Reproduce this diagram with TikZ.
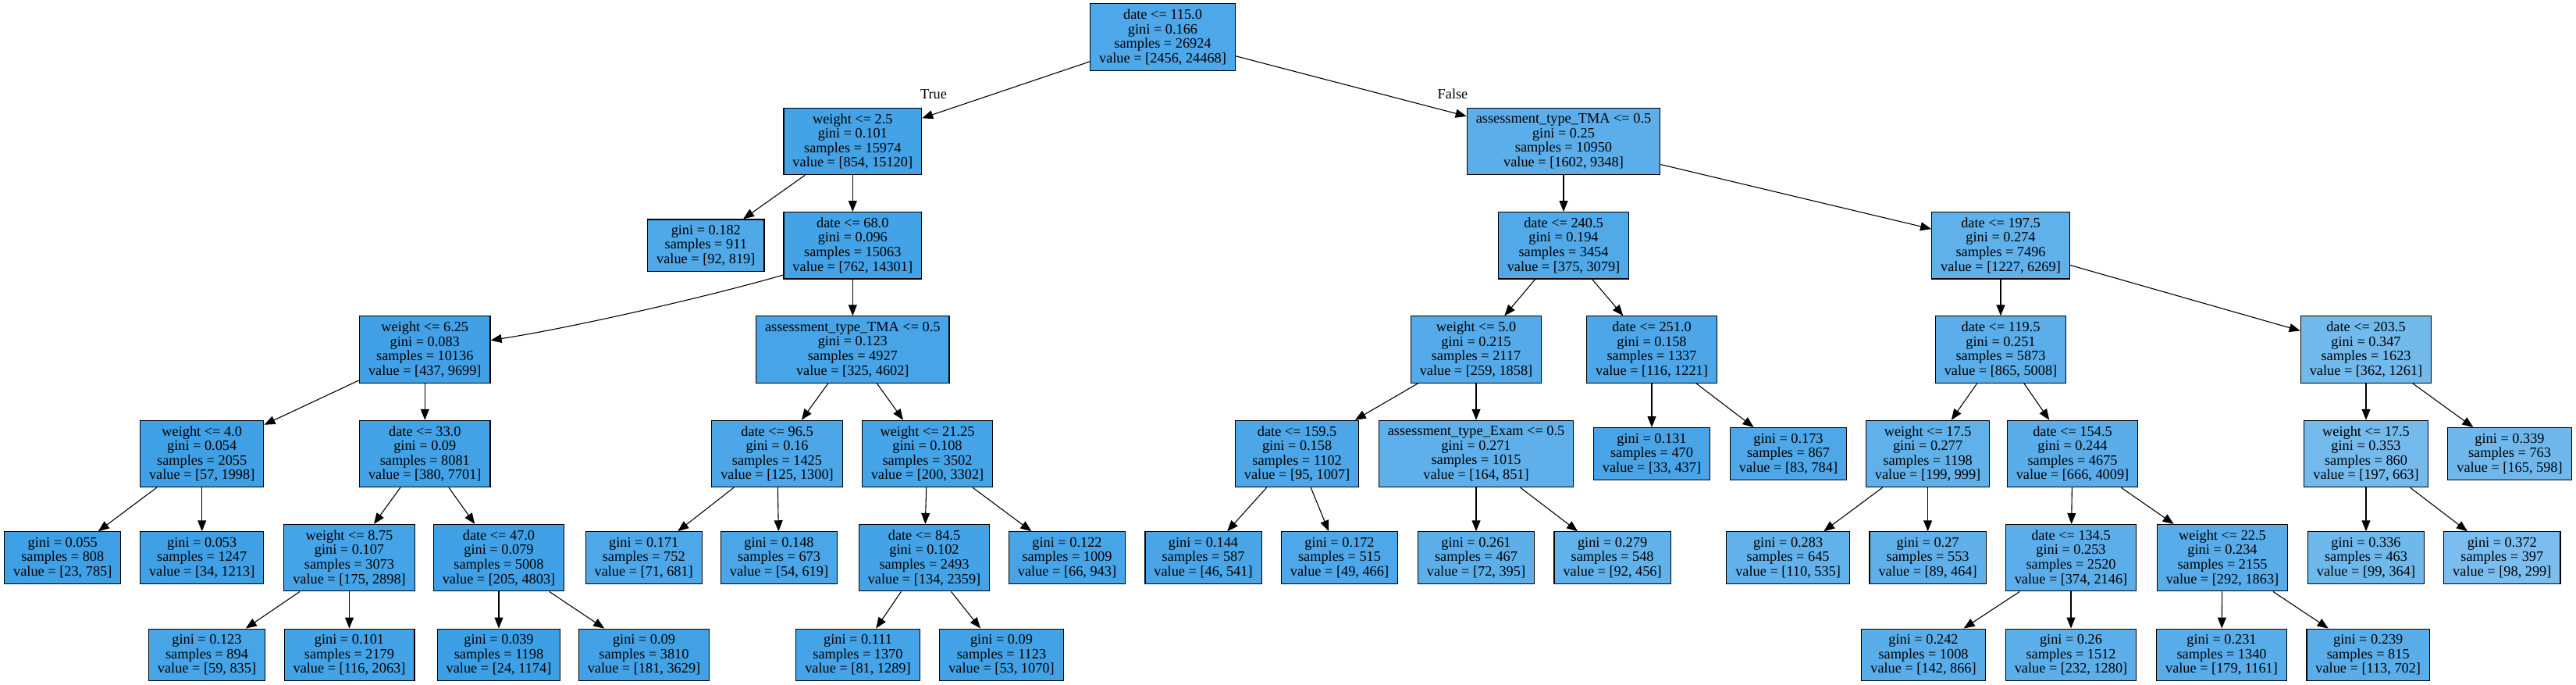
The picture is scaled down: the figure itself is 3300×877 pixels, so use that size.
\documentclass[tikz,border=0pt]{standalone}
\usepackage{fontspec}
\setmainfont{Liberation Serif}
\usetikzlibrary{arrows.meta}
\definecolor{sk}{RGB}{57,157,229}
\begin{document}
\begin{tikzpicture}[x=1pt,y=-1pt,
  tn/.style={draw=black, line width=1.2pt, rectangle, align=center, inner xsep=11.5pt, inner ysep=0pt, font=\fontsize{18.3}{18.6}\selectfont, fill=sk!#1!white},
  dn/.style={tn=#1, minimum height=85.3pt},
  lf/.style={tn=#1, minimum height=66.7pt},
  lbl/.style={font=\fontsize{18.3}{18.6}\selectfont, inner sep=0pt},
  ed/.style={line width=1.1pt, -{Triangle[length=14pt,width=11pt]}},
]
\fill[white] (0,0) rectangle (3300,877);
\useasboundingbox (0,0) rectangle (3300,877);

% rank 0
\node[dn=89.96] (root) at (1489.5,47.5) {date <= 115.0\\gini = 0.166\\samples = 26924\\value = [2456, 24468]};
% rank 1
\node[dn=94.35] (L) at (1092.3,181) {weight <= 2.5\\gini = 0.101\\samples = 15974\\value = [854, 15120]};
\node[dn=82.86] (R) at (2003,181) {assessment\_type\_TMA <= 0.5\\gini = 0.25\\samples = 10950\\value = [1602, 9348]};
% rank 2
\node[lf=88.77] (g182) at (904.3,314.3) {gini = 0.182\\samples = 911\\value = [92, 819]};
\node[dn=94.67] (LR) at (1092.3,314.3) {date <= 68.0\\gini = 0.096\\samples = 15063\\value = [762, 14301]};
\node[dn=87.82] (RL) at (2003,314.3) {date <= 240.5\\gini = 0.194\\samples = 3454\\value = [375, 3079]};
\node[dn=80.43] (RR) at (2563,314.3) {date <= 197.5\\gini = 0.274\\samples = 7496\\value = [1227, 6269]};
% rank 3
\node[dn=95.49] (LRL) at (544.3,447.5) {weight <= 6.25\\gini = 0.083\\samples = 10136\\value = [437, 9699]};
\node[dn=92.94] (LRR) at (1092.3,447.5) {assessment\_type\_TMA <= 0.5\\gini = 0.123\\samples = 4927\\value = [325, 4602]};
\node[dn=86.06] (RLL) at (1891,447.5) {weight <= 5.0\\gini = 0.215\\samples = 2117\\value = [259, 1858]};
\node[dn=90.50] (RLR) at (2116,447.5) {date <= 251.0\\gini = 0.158\\samples = 1337\\value = [116, 1221]};
\node[dn=82.73] (RRL) at (2563,447.5) {date <= 119.5\\gini = 0.251\\samples = 5873\\value = [865, 5008]};
\node[dn=71.29] (RRR) at (3031,447.5) {date <= 203.5\\gini = 0.347\\samples = 1623\\value = [362, 1261]};
% rank 4
\node[dn=97.15] (LRLL) at (258.7,581) {weight <= 4.0\\gini = 0.054\\samples = 2055\\value = [57, 1998]};
\node[dn=95.07] (LRLR) at (544.3,581) {date <= 33.0\\gini = 0.09\\samples = 8081\\value = [380, 7701]};
\node[dn=90.38] (LRRL) at (995.5,581) {date <= 96.5\\gini = 0.16\\samples = 1425\\value = [125, 1300]};
\node[dn=93.94] (LRRR) at (1188,581) {weight <= 21.25\\gini = 0.108\\samples = 3502\\value = [200, 3302]};
\node[dn=90.57] (RLLL) at (1661.6,581) {date <= 159.5\\gini = 0.158\\samples = 1102\\value = [95, 1007]};
\node[dn=80.73] (RLLR) at (1891,581) {assessment\_type\_Exam <= 0.5\\gini = 0.271\\samples = 1015\\value = [164, 851]};
\node[lf=92.45] (g131) at (2116,581) {gini = 0.131\\samples = 470\\value = [33, 437]};
\node[lf=89.41] (g173) at (2291,581) {gini = 0.173\\samples = 867\\value = [83, 784]};
\node[dn=80.08] (RRLL) at (2469.6,581) {weight <= 17.5\\gini = 0.277\\samples = 1198\\value = [199, 999]};
\node[dn=83.39] (RRLR) at (2655,581) {date <= 154.5\\gini = 0.244\\samples = 4675\\value = [666, 4009]};
\node[dn=70.29] (RRRL) at (3031,581) {weight <= 17.5\\gini = 0.353\\samples = 860\\value = [197, 663]};
\node[lf=72.41] (g339) at (3215,581) {gini = 0.339\\samples = 763\\value = [165, 598]};
% rank 5
\node[lf=97.07] (g055) at (80.3,714.2) {gini = 0.055\\samples = 808\\value = [23, 785]};
\node[lf=97.20] (g053) at (258.7,714.2) {gini = 0.053\\samples = 1247\\value = [34, 1213]};
\node[dn=93.96] (LRLRL) at (447.5,714.2) {weight <= 8.75\\gini = 0.107\\samples = 3073\\value = [175, 2898]};
\node[dn=95.73] (LRLRR) at (639,714.2) {date <= 47.0\\gini = 0.079\\samples = 5008\\value = [205, 4803]};
\node[lf=89.57] (g171) at (824.7,714.2) {gini = 0.171\\samples = 752\\value = [71, 681]};
\node[lf=91.28] (g148) at (998,714.2) {gini = 0.148\\samples = 673\\value = [54, 619]};
\node[dn=94.32] (LRRRL) at (1184,714.2) {date <= 84.5\\gini = 0.102\\samples = 2493\\value = [134, 2359]};
\node[lf=93.00] (g122) at (1367,714.2) {gini = 0.122\\samples = 1009\\value = [66, 943]};
\node[lf=91.50] (g144) at (1541.5,714.2) {gini = 0.144\\samples = 587\\value = [46, 541]};
\node[lf=89.48] (g172) at (1716,714.2) {gini = 0.172\\samples = 515\\value = [49, 466]};
\node[lf=81.77] (g261) at (1891,714.2) {gini = 0.261\\samples = 467\\value = [72, 395]};
\node[lf=79.82] (g279) at (2065.6,714.2) {gini = 0.279\\samples = 548\\value = [92, 456]};
\node[lf=79.44] (g283) at (2290.6,714.2) {gini = 0.283\\samples = 645\\value = [110, 535]};
\node[lf=80.82] (g27) at (2469.6,714.2) {gini = 0.27\\samples = 553\\value = [89, 464]};
\node[dn=82.57] (RRLRL) at (2653,714.2) {date <= 134.5\\gini = 0.253\\samples = 2520\\value = [374, 2146]};
\node[dn=84.33] (RRLRR) at (2847,714.2) {weight <= 22.5\\gini = 0.234\\samples = 2155\\value = [292, 1863]};
\node[lf=72.80] (g336) at (3031,714.2) {gini = 0.336\\samples = 463\\value = [99, 364]};
\node[lf=67.22] (g372) at (3205.3,714.2) {gini = 0.372\\samples = 397\\value = [98, 299]};
% rank 6
\node[lf=92.93] (g123) at (265,838.5) {gini = 0.123\\samples = 894\\value = [59, 835]};
\node[lf=94.38] (g101) at (447.5,838.5) {gini = 0.101\\samples = 2179\\value = [116, 2063]};
\node[lf=97.96] (g039) at (639,838.5) {gini = 0.039\\samples = 1198\\value = [24, 1174]};
\node[lf=95.01] (g09a) at (825,838.5) {gini = 0.09\\samples = 3810\\value = [181, 3629]};
\node[lf=93.72] (g111) at (1099,838.5) {gini = 0.111\\samples = 1370\\value = [81, 1289]};
\node[lf=95.05] (g09b) at (1283,838.5) {gini = 0.09\\samples = 1123\\value = [53, 1070]};
\node[lf=83.60] (g242) at (2464,838.5) {gini = 0.242\\samples = 1008\\value = [142, 866]};
\node[lf=81.88] (g26) at (2653,838.5) {gini = 0.26\\samples = 1512\\value = [232, 1280]};
\node[lf=84.58] (g231) at (2846,838.5) {gini = 0.231\\samples = 1340\\value = [179, 1161]};
\node[lf=83.90] (g239) at (3033.7,838.5) {gini = 0.239\\samples = 815\\value = [113, 702]};

% edge labels
\node[lbl] (lblT) at (1196,121) {True};
\node[lbl] (lblF) at (1861,120) {False};

% edges
\draw[ed] (root) -- (L);
\draw[ed] (root) -- (R);
\draw[ed] (L) -- (g182);
\draw[ed] (L) -- (LR);
\draw[ed] (R) -- (RL);
\draw[ed] (R) -- (RR);
\draw[ed] (LR.203) .. controls (903,381) and (730,420) .. (LRL.8);
\draw[ed] (LR) -- (LRR);
\draw[ed] (RL) -- (RLL);
\draw[ed] (RL) -- (RLR);
\draw[ed] (RR) -- (RRL);
\draw[ed] (RR) -- (RRR);
\draw[ed] (LRL) -- (LRLL);
\draw[ed] (LRL) -- (LRLR);
\draw[ed] (LRR) -- (LRRL);
\draw[ed] (LRR) -- (LRRR);
\draw[ed] (RLL) -- (RLLL);
\draw[ed] (RLL) -- (RLLR);
\draw[ed] (RLR) -- (g131);
\draw[ed] (RLR) -- (g173);
\draw[ed] (RRL) -- (RRLL);
\draw[ed] (RRL) -- (RRLR);
\draw[ed] (RRR) -- (RRRL);
\draw[ed] (RRR) -- (g339);
\draw[ed] (LRLL) -- (g055);
\draw[ed] (LRLL) -- (g053);
\draw[ed] (LRLR) -- (LRLRL);
\draw[ed] (LRLR) -- (LRLRR);
\draw[ed] (LRRL) -- (g171);
\draw[ed] (LRRL) -- (g148);
\draw[ed] (LRRR) -- (LRRRL);
\draw[ed] (LRRR) -- (g122);
\draw[ed] (RLLL) -- (g144);
\draw[ed] (RLLL) -- (g172);
\draw[ed] (RLLR) -- (g261);
\draw[ed] (RLLR) -- (g279);
\draw[ed] (RRLL) -- (g283);
\draw[ed] (RRLL) -- (g27);
\draw[ed] (RRLR) -- (RRLRL);
\draw[ed] (RRLR) -- (RRLRR);
\draw[ed] (RRRL) -- (g336);
\draw[ed] (RRRL) -- (g372);
\draw[ed] (LRLRL) -- (g123);
\draw[ed] (LRLRL) -- (g101);
\draw[ed] (LRLRR) -- (g039);
\draw[ed] (LRLRR) -- (g09a);
\draw[ed] (LRRRL) -- (g111);
\draw[ed] (LRRRL) -- (g09b);
\draw[ed] (RRLRL) -- (g242);
\draw[ed] (RRLRL) -- (g26);
\draw[ed] (RRLRR) -- (g231);
\draw[ed] (RRLRR) -- (g239);
\end{tikzpicture}
\end{document}
